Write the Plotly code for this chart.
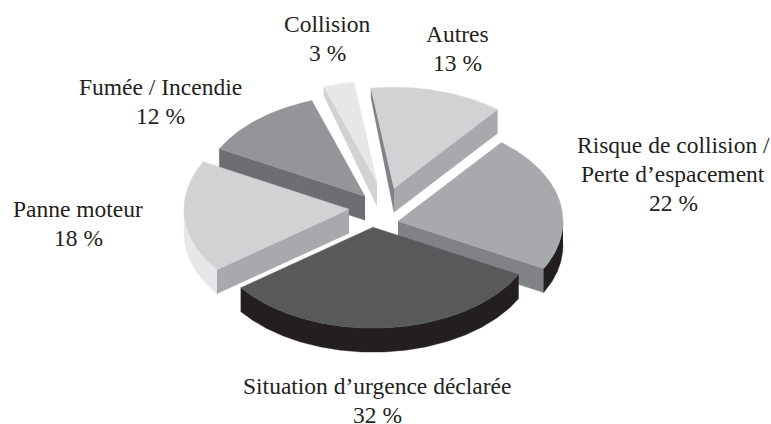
import math
import numpy as np
import plotly.graph_objects as go

# ---- data ----
categories = ["Autres", "Risque de collision /\nPerte d’espacement", "Situation d’urgence déclarée",
              "Panne moteur", "Fumée / Incendie", "Collision"]
shares = [13, 22, 32, 18, 12, 3]

# ---- style and layout ----
W, H = 771, 424
CX, CY = 373.5, 207.2
RX, RY = 165, 101
DEPTH = 24
START_DEG = -98
PULL_X = [20.5, 24.5, -0.5, -24.5, -8.5, 3.5]
PULL_Y = [-19, 14, 20, 2, -11, -25]
TOP = ["#d1d2d4", "#a7a9ac", "#58595b", "#d1d2d4", "#939598", "#e6e7e8"]
RIM = ["#a7a9ac", "#231f20", "#231f20", "#e6e7e8", "#6d6e71", "#d1d2d4"]
FACE_START = ["#808285", "#808285", "#231f20", "#a7a9ac", "#6d6e71", "#d1d2d4"]
FACE_END = ["#a7a9ac", "#808285", "#231f20", "#a7a9ac", "#6d6e71", "#d1d2d4"]
OUTER_DEPTH_START = [10, DEPTH, DEPTH, DEPTH, DEPTH, 9]
LABEL_X = [457, 673, 377, 78, 160.5, 327]
LABEL_Y = [33.5, 144.5, 386, 209, 86.5, 23.5]
LINE_GAP = 29
FONT = dict(family="Liberation Serif", size=23.5, color="#231f20")


def poly(fig, xs, ys, color):
    fig.add_trace(go.Scatter(x=xs, y=ys, mode="lines", fill="toself", fillcolor=color,
                             line=dict(width=0.4, color=color), hoverinfo="skip", showlegend=False))


fig = go.Figure()
total = sum(shares)
bounds = START_DEG + np.cumsum([0] + shares) * 360.0 / total
order = sorted(range(len(shares)), key=lambda i: PULL_Y[i])

for i in order:
    t0, t1 = math.radians(bounds[i]), math.radians(bounds[i + 1])
    ax, ay = CX + PULL_X[i], CY + PULL_Y[i]
    px = lambda t: ax + RX * np.cos(t)
    py = lambda t: ay + RY * np.sin(t)

    # cut face on the clockwise side
    if math.cos(t1) > 0:
        poly(fig, [ax, px(t1), px(t1), ax], [ay, py(t1), py(t1) + DEPTH, ay + DEPTH], FACE_END[i])
    # cut face on the counter-clockwise side
    if math.cos(t0) < 0:
        poly(fig, [ax, px(t0), px(t0), ax],
             [ay, py(t0), py(t0) + OUTER_DEPTH_START[i], ay + DEPTH], FACE_START[i])
    # outer rim, only the part that faces the viewer
    ts = np.linspace(t0, t1, 160)
    front = ts[np.sin(ts) > 0]
    if len(front) > 1:
        poly(fig,
             list(px(front)) + list(px(front[::-1])),
             list(py(front)) + list(py(front[::-1]) + DEPTH),
             RIM[i])
    # top
    poly(fig, [ax] + list(px(ts)) + [ax], [ay] + list(py(ts)) + [ay], TOP[i])

for name, share, lx, ly in zip(categories, shares, LABEL_X, LABEL_Y):
    lines = name.split("\n") + [f"{share} %"]
    for k, line in enumerate(lines):
        fig.add_annotation(x=lx, y=ly + k * LINE_GAP, text=line, showarrow=False,
                           xanchor="center", yanchor="middle", font=FONT)

fig.update_layout(width=W, height=H, margin=dict(l=0, r=0, t=0, b=0),
                  paper_bgcolor="white", plot_bgcolor="white", showlegend=False)
fig.update_xaxes(range=[0, W], visible=False, fixedrange=True)
fig.update_yaxes(range=[H, 0], visible=False, fixedrange=True)
fig.write_html("out.html", config=dict(displayModeBar=False),
               post_script="document.body.style.margin='0';document.documentElement.style.overflow='hidden';")
